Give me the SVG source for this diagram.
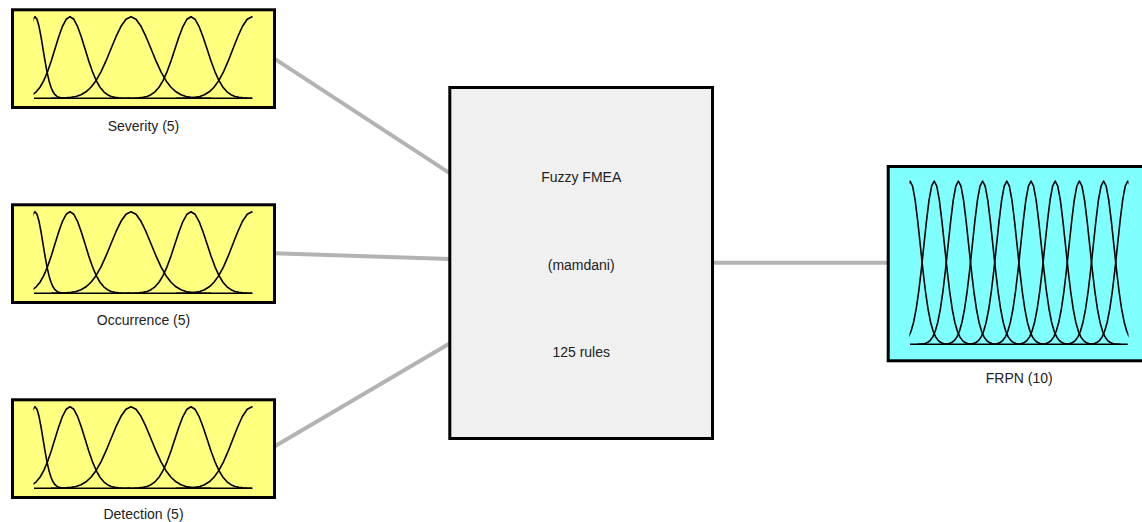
<svg xmlns="http://www.w3.org/2000/svg" width="1142" height="522" viewBox="0 0 1142 522">
  <style>
    .conn { stroke: #b3b3b3; stroke-width: 4; fill: none; }
    .in { fill: #ffff80; stroke: #000; stroke-width: 3; }
    .out { fill: #80ffff; stroke: #000; stroke-width: 3; }
    .sys { fill: #f0f0f0; stroke: #000; stroke-width: 3; }
    .mf { fill: none; stroke: #000; stroke-width: 1.6; stroke-linejoin: round; }
    .axis { stroke: #000; stroke-width: 1.6; }
    text { font-family: "Liberation Sans", Arial, sans-serif; font-size: 14px; fill: #222; text-anchor: middle; }
  </style>
  <defs>
    <polyline id="gauss" class="mf" vector-effect="non-scaling-stroke" points="-4,-0.0003 -3.75,-0.0009 -3.5,-0.0022 -3.25,-0.0051 -3,-0.0111 -2.75,-0.0228 -2.5,-0.0439 -2.25,-0.0796 -2,-0.1353 -1.75,-0.2163 -1.5,-0.3247 -1.25,-0.4578 -1,-0.6065 -0.75,-0.7548 -0.5,-0.8825 -0.25,-0.9692 0,-1 0.25,-0.9692 0.5,-0.8825 0.75,-0.7548 1,-0.6065 1.25,-0.4578 1.5,-0.3247 1.75,-0.2163 2,-0.1353 2.25,-0.0796 2.5,-0.0439 2.75,-0.0228 3,-0.0111 3.25,-0.0051 3.5,-0.0022 3.75,-0.0009 4,-0.0003"/>
    <clipPath id="clip5"><rect x="-0.5" y="-90" width="219" height="92"/></clipPath>
    <clipPath id="clip10"><rect x="-0.5" y="-170" width="219" height="172"/></clipPath>
    <g id="mf5">
      <g clip-path="url(#clip5)">
        <use href="#gauss" transform="translate(1,0) scale(8,81.6)"/>
        <use href="#gauss" transform="translate(36,0) scale(15,81.6)"/>
        <use href="#gauss" transform="translate(97,0) scale(20,81.6)"/>
        <use href="#gauss" transform="translate(157,0) scale(16,81.6)"/>
        <use href="#gauss" transform="translate(218,0) scale(19,81.6)"/>
      </g>
      <line class="axis" x1="0" y1="0" x2="218" y2="0"/>
    </g>
    <g id="mf10">
      <g clip-path="url(#clip10)">
        <use href="#gauss" transform="translate(0,0) scale(10.3,163.3)"/>
        <use href="#gauss" transform="translate(24.2,0) scale(10.3,163.3)"/>
        <use href="#gauss" transform="translate(48.4,0) scale(10.3,163.3)"/>
        <use href="#gauss" transform="translate(72.6,0) scale(10.3,163.3)"/>
        <use href="#gauss" transform="translate(96.8,0) scale(10.3,163.3)"/>
        <use href="#gauss" transform="translate(121,0) scale(10.3,163.3)"/>
        <use href="#gauss" transform="translate(145.2,0) scale(10.3,163.3)"/>
        <use href="#gauss" transform="translate(169.4,0) scale(10.3,163.3)"/>
        <use href="#gauss" transform="translate(193.6,0) scale(10.3,163.3)"/>
        <use href="#gauss" transform="translate(217.8,0) scale(10.3,163.3)"/>
      </g>
      <line class="axis" x1="0" y1="0" x2="217.8" y2="0"/>
    </g>
  </defs>
  <rect x="0" y="0" width="1142" height="522" fill="#ffffff"/>
  <g id="connectors">
    <line class="conn" x1="274" y1="58.3" x2="450" y2="173.3"/>
    <line class="conn" x1="274" y1="253.3" x2="450" y2="259"/>
    <line class="conn" x1="274" y1="446.7" x2="450" y2="343.3"/>
    <line class="conn" x1="712" y1="262.7" x2="889" y2="262.7"/>
  </g>
  <g id="severity">
    <rect class="in" x="12.5" y="9.8" width="262" height="97.7"/>
    <use href="#mf5" transform="translate(34,98.3)"/>
    <text x="143.5" y="131">Severity (5)</text>
  </g>
  <g id="occurrence">
    <rect class="in" x="12.5" y="204.8" width="262" height="97.7"/>
    <use href="#mf5" transform="translate(34,293.3)"/>
    <text x="143.5" y="325">Occurrence (5)</text>
  </g>
  <g id="detection">
    <rect class="in" x="12.5" y="399.8" width="262" height="97.7"/>
    <use href="#mf5" transform="translate(34,488.3)"/>
    <text x="143.5" y="518.5">Detection (5)</text>
  </g>
  <g id="fis">
    <rect class="sys" x="449.8" y="87.5" width="262.7" height="351"/>
    <text x="581.2" y="181.7">Fuzzy FMEA</text>
    <text x="581.2" y="269.5">(mamdani)</text>
    <text x="581.2" y="356.7">125 rules</text>
  </g>
  <g id="frpn">
    <rect class="out" x="888.2" y="166.5" width="262" height="194.3"/>
    <use href="#mf10" transform="translate(910,344.3)"/>
    <text x="1019.2" y="383.3">FRPN (10)</text>
  </g>
</svg>
